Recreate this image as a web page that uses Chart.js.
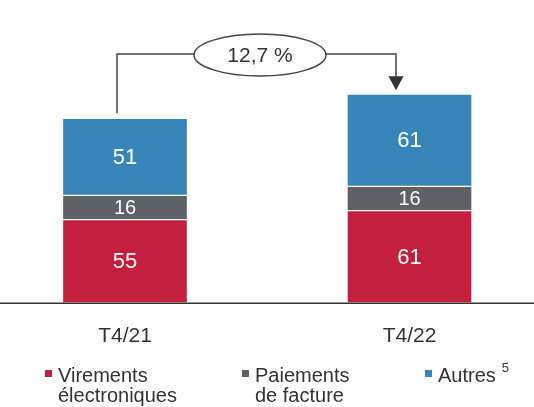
<!DOCTYPE html>
<html>
<head>
<meta charset="utf-8">
<script src="https://cdn.jsdelivr.net/npm/chart.js@4.4.1/dist/chart.umd.min.js"></script>
<style>
  html, body { margin:0; padding:0; background:#fff; overflow:hidden; }
  #wrap { width:534px; height:407px; }
</style>
</head>
<body>
<div id="wrap"><canvas id="chart" width="534" height="407"></canvas></div>
<script>
// ---- data ----
const categories = ["T4/21", "T4/22"];
const virements = [55, 61];
const paiements = [16, 16];
const autres = [51, 61];
const seriesNames = [["Virements", "électroniques"], ["Paiements", "de facture"], ["Autres"]];
const growthLabel = "12,7 %";
const footnote = "5";

const RED = "#c41f3e";
const GREY = "#5e6165";
const BLUE = "#3784b9";
const TEXT = "#333333";
const FONT = "'Liberation Sans', Arial, sans-serif";

// baseline, segment values, growth bubble with arrow, legend
const extras = {
  id: "extras",
  afterDraw(chart){
    const ctx = chart.ctx;
    const area = chart.chartArea;
    ctx.save();

    // baseline across the whole width
    ctx.strokeStyle = "#333";
    ctx.lineWidth = 1.5;
    ctx.beginPath();
    ctx.moveTo(0, area.bottom + 0.5);
    ctx.lineTo(chart.width, area.bottom + 0.5);
    ctx.stroke();

    // values inside the segments
    ctx.fillStyle = "#fff";
    ctx.textAlign = "center";
    ctx.textBaseline = "middle";
    chart.data.datasets.forEach((ds, di)=>{
      chart.getDatasetMeta(di).data.forEach((bar, i)=>{
        const size = ds.data[i] < 20 ? 20 : 22;
        ctx.font = size + "px " + FONT;
        ctx.fillText(String(ds.data[i]), bar.x, (bar.y + bar.base)/2 + 1);
      });
    });

    // growth annotation
    const top = chart.getDatasetMeta(2).data;
    const x0 = top[0].x - 8, x1 = top[1].x - 13.5;
    const lineY = 54;
    const cx = 260, cy = 55, rx = 66, ry = 21;
    ctx.strokeStyle = "#444";
    ctx.lineWidth = 1.5;
    ctx.beginPath();
    ctx.moveTo(x0, top[0].y - 5);
    ctx.lineTo(x0, lineY);
    ctx.lineTo(cx - rx, lineY);
    ctx.moveTo(cx + rx, lineY);
    ctx.lineTo(x1, lineY);
    ctx.lineTo(x1, top[1].y - 16);
    ctx.stroke();
    ctx.fillStyle = "#333";
    ctx.beginPath();
    ctx.moveTo(x1 - 7.5, top[1].y - 18);
    ctx.lineTo(x1 + 7.5, top[1].y - 18);
    ctx.lineTo(x1, top[1].y - 4);
    ctx.closePath();
    ctx.fill();
    ctx.fillStyle = "#fff";
    ctx.beginPath();
    ctx.ellipse(cx, cy, rx, ry, 0, 0, Math.PI*2);
    ctx.fill();
    ctx.stroke();
    ctx.fillStyle = TEXT;
    ctx.font = "21px " + FONT;
    ctx.fillText(growthLabel, cx, cy + 1);

    // legend
    const legendX = [45, 242, 425];
    ctx.textAlign = "left";
    ctx.textBaseline = "alphabetic";
    chart.data.datasets.forEach((ds, i)=>{
      const x = legendX[i];
      ctx.fillStyle = ds.backgroundColor;
      ctx.fillRect(x, 370, 7, 7);
      ctx.fillStyle = TEXT;
      ctx.font = "20px " + FONT;
      seriesNames[i].forEach((line, li)=>{
        ctx.fillText(line, x + 13, 382 + li*20);
      });
      if(i === 2){
        const w = ctx.measureText(seriesNames[i][0]).width;
        ctx.font = "13px " + FONT;
        ctx.fillText(footnote, x + 13 + w + 6, 372);
      }
    });
    ctx.restore();
  }
};

const mkSet = (label, data, color)=>({
  label, data,
  backgroundColor: color,
  borderColor: "rgba(255,255,255,0.9)",
  borderWidth: 1,
  borderSkipped: false,
  barThickness: 125,
  clip: false
});

new Chart(document.getElementById("chart"), {
  type: "bar",
  data: {
    labels: categories,
    datasets: [
      mkSet(seriesNames[0].join(" "), virements, RED),
      mkSet(seriesNames[1].join(" "), paiements, GREY),
      mkSet(seriesNames[2].join(" "), autres, BLUE)
    ]
  },
  options: {
    responsive: false,
    animation: false,
    devicePixelRatio: 1,
    layout: { padding: { left: 125, right: 124.5, top: 76, bottom: 37 } },
    plugins: { legend: { display: false }, tooltip: { enabled: false } },
    scales: {
      x: {
        stacked: true,
        offset: false,
        grid: { display: false, drawTicks: false },
        border: { display: false },
        ticks: { color: TEXT, font: { family: FONT, size: 21 }, padding: 21, maxRotation: 0, autoSkip: false }
      },
      y: { stacked: true, display: false, min: 0, max: 150 }
    }
  },
  plugins: [extras]
});
</script>
</body>
</html>
